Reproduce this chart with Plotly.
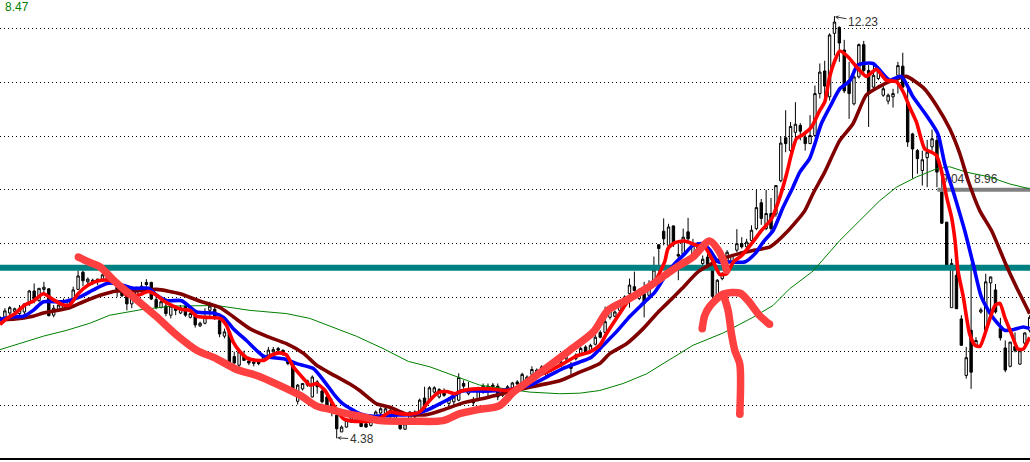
import plotly.graph_objects as go

# candle index is position along the x axis; W = rising (hollow) candle, B = falling (filled) candle
candle_kind = list(
    "WWWWWWWBWWB" "WWWWWWBWWWWWBBBB" "WWWBBBWBWBWBWB" "WWWBBWBBWBBWBWWWBB" "BBWWWWBBBBB"
    "WWWWBBWWWWWWBWWWWBWWWB" "WWWBWBWWWBBWWWBWWWWWWWWWWB" "WWBWWBWWWWWWBWBWWB"
    "BWBBWBWWWBBWWWWWBWWWBWBW" "WBWWBBWWWBWWBBBWWBBWWWWWWBBBBWWWBBB" "WBBWBWWWWBBBWBWWW")
body_top = [6.63,6.75,6.81,6.79,6.80,6.88,7.12,7.12,7.17,7.19,7.16,
6.80,6.86,6.86,6.95,7.14,7.40,7.47,7.34,7.32,7.34,7.42,7.45,7.35,7.26,7.15,7.03,
6.98,7.17,7.21,7.28,7.28,6.96,6.92,6.84,6.84,6.81,6.81,6.84,6.70,6.67,
6.52,6.63,6.84,6.78,6.57,6.36,6.36,5.90,5.99,5.93,5.82,5.80,5.80,5.90,6.02,6.03,6.05,6.02,
5.85,5.77,5.37,5.40,5.45,5.52,5.43,5.26,5.15,5.03,4.81,
4.59,4.72,4.78,4.81,4.68,4.65,4.72,4.87,4.93,4.93,4.90,4.87,4.65,4.65,4.87,4.87,5.09,5.13,5.32,5.32,5.29,5.27,
5.12,5.15,5.51,5.40,5.27,5.10,5.30,5.35,5.35,5.37,5.35,5.27,5.34,5.41,5.43,5.57,5.52,5.66,5.65,5.71,5.62,5.71,5.86,5.80,5.93,
5.74,5.93,6.05,6.08,6.11,6.26,6.35,6.55,6.76,6.73,6.86,7.01,7.23,7.20,7.14,7.07,7.20,7.51,7.98,
8.23,8.31,8.33,7.80,8.12,8.22,8.00,8.00,7.71,7.75,7.50,7.32,7.44,7.84,7.78,8.00,8.00,8.03,8.25,8.67,8.76,8.56,8.56,9.08,
9.87,9.97,10.18,10.22,10.20,9.98,10.01,10.79,11.19,11.21,11.88,12.12,12.02,11.60,11.04,11.10,11.70,11.70,11.22,11.13,11.25,10.88,10.76,10.79,11.31,11.30,10.63,10.04,9.73,9.56,9.70,9.95,9.92,8.96,8.40,
7.63,7.41,6.60,5.88,6.39,6.20,6.77,7.29,7.38,7.14,6.42,6.06,6.17,6.09,6.01,6.34,6.63]
body_bot = [6.52,6.63,6.71,6.74,6.70,6.73,6.88,6.96,6.94,7.15,6.66,
6.67,6.78,6.80,6.84,6.94,7.15,7.31,7.29,7.29,7.31,7.34,7.32,7.26,7.15,7.03,6.88,
6.88,7.04,7.15,7.24,6.97,6.81,6.81,6.70,6.67,6.76,6.71,6.67,6.63,6.49,
6.47,6.52,6.76,6.63,6.32,6.28,5.80,5.78,5.74,5.83,5.78,5.77,5.77,5.85,5.93,5.99,6.02,5.96,
5.77,5.30,5.07,5.30,5.37,5.15,5.34,5.06,4.99,4.87,4.56,
4.50,4.59,4.68,4.72,4.60,4.59,4.62,4.78,4.85,4.81,4.78,4.75,4.56,4.55,4.75,4.78,4.87,4.93,5.09,5.24,5.15,5.18,
5.03,5.06,5.09,5.35,5.21,5.04,5.12,5.24,5.27,5.34,5.15,5.18,5.27,5.32,5.39,5.41,5.45,5.57,5.58,5.65,5.55,5.65,5.80,5.74,5.86,
5.68,5.86,5.96,5.99,5.99,6.13,6.26,6.35,6.63,6.65,6.76,6.92,7.07,7.13,6.98,6.89,7.04,7.32,7.91,
8.09,7.97,7.98,7.77,7.81,8.09,7.81,7.91,7.63,7.60,7.02,7.02,7.35,7.69,7.66,7.88,7.94,7.94,8.06,8.28,8.47,8.28,8.28,8.55,
9.17,9.86,9.73,10.07,10.09,9.86,9.86,10.01,10.79,10.93,10.73,11.91,11.73,10.84,10.79,10.60,11.10,11.22,10.79,10.91,11.07,10.76,10.65,10.73,11.13,10.91,9.89,9.76,9.58,9.36,9.60,9.80,9.33,8.38,7.60,
6.81,6.79,6.11,5.55,5.61,6.11,6.73,6.39,7.27,6.73,6.25,5.65,5.72,6.01,5.76,6.15,6.39]
high = [6.65,6.80,6.84,6.81,6.86,6.89,7.14,7.26,7.17,7.29,7.17,
6.86,6.95,6.98,6.98,7.20,7.50,7.50,7.37,7.35,7.35,7.45,7.48,7.39,7.29,7.23,7.04,
7.04,7.20,7.29,7.34,7.29,7.01,6.95,6.98,6.86,6.86,6.86,6.89,6.76,6.73,
6.55,6.80,6.92,6.83,6.70,6.42,6.39,5.99,6.01,6.01,5.90,5.85,5.85,5.93,6.08,6.08,6.08,6.03,
5.90,5.80,5.39,5.41,5.47,5.55,5.46,5.34,5.18,5.12,4.84,
4.62,4.75,4.81,4.84,4.72,4.68,4.75,4.90,4.96,4.96,4.93,4.90,4.68,4.68,4.88,4.90,5.12,5.34,5.35,5.35,5.31,5.31,
5.15,5.18,5.59,5.46,5.43,5.15,5.34,5.40,5.40,5.41,5.40,5.31,5.37,5.43,5.46,5.60,5.55,5.72,5.68,5.74,5.66,5.74,5.90,5.83,5.96,
5.80,5.96,6.08,6.11,6.14,6.30,6.39,6.83,6.80,6.76,6.89,7.04,7.35,7.48,7.17,7.29,7.32,7.76,7.98,
8.47,8.37,8.34,8.00,8.28,8.48,8.09,8.03,7.78,7.94,7.57,7.34,7.47,7.88,7.81,8.27,8.12,8.09,8.34,9.00,8.83,9.00,8.85,9.08,
9.99,10.48,10.26,10.63,10.24,10.07,10.39,10.94,11.35,11.40,11.91,12.23,12.04,11.79,11.38,11.13,11.72,11.77,11.32,11.32,11.29,10.94,10.79,10.88,11.38,11.55,10.94,10.06,9.76,9.73,9.93,10.12,10.01,9.24,8.40,
7.72,7.60,6.67,6.08,7.63,6.26,6.81,7.44,7.39,7.25,6.62,6.20,6.17,6.35,6.04,6.35,6.67]
low = [6.49,6.61,6.67,6.70,6.67,6.67,6.84,6.89,6.92,7.07,6.65,
6.63,6.76,6.76,6.80,6.92,7.14,7.21,7.23,7.23,7.23,7.31,7.29,7.23,7.01,7.01,6.76,
6.80,7.01,7.07,7.20,6.95,6.78,6.80,6.65,6.61,6.67,6.69,6.64,6.61,6.44,
6.45,6.50,6.63,6.58,6.26,6.24,5.80,5.77,5.71,5.82,5.74,5.72,5.74,5.82,5.90,5.96,5.97,5.91,
5.74,5.27,5.01,5.27,5.34,5.14,5.21,5.03,4.96,4.79,4.38,
4.50,4.58,4.67,4.68,4.59,4.58,4.60,4.75,4.78,4.79,4.75,4.73,4.54,4.54,4.72,4.75,4.84,4.93,5.07,5.21,5.12,5.15,
4.96,4.99,5.07,5.30,5.18,4.98,5.09,5.21,5.12,5.27,5.09,5.15,5.24,5.29,5.35,5.40,5.41,5.55,5.52,5.58,5.52,5.62,5.77,5.71,5.82,
5.57,5.83,5.93,5.96,5.96,6.11,6.24,6.33,6.59,6.63,6.73,6.89,6.81,7.11,6.95,6.63,7.01,7.26,7.48,
7.97,7.94,7.94,7.32,7.78,8.00,7.78,7.88,7.57,7.57,7.02,7.01,7.32,7.66,7.65,7.84,7.91,7.91,8.03,8.25,8.35,8.25,8.16,8.50,
9.14,9.70,9.61,9.86,9.92,9.73,9.85,9.98,10.70,10.63,10.66,11.50,11.38,10.80,10.32,10.57,11.07,11.16,10.17,10.88,11.04,10.73,10.59,10.53,10.79,10.90,9.80,9.21,9.30,9.08,9.05,9.73,9.05,8.37,7.58,
6.81,6.79,6.11,5.49,5.30,6.08,6.70,6.35,6.70,6.70,6.20,5.61,5.70,5.98,5.75,6.11,6.35]

red_i = [0,1.4,3.1,5.1,6.8,8.9,10.9,13,14.3,16,18.1,20.2,22.2,23.9,26,28.3,30.4,32.1,33.5,35.5,37.2,38.9,40.3,42.3,45.1,46.4,47.8,49.2,50.9,54,55.7,57.4,58.7,60.1,62.2,63.5,64.9,66.6,68,70.3,72.4,75.8,77.8,79.9,81.9,84,86,88.1,89.8,91.5,93.2,94.9,97.7,100.4,103.8,106.5,108.6,112,115.4,118.1,120.9,122.9,124.3,126.3,127.7,129.1,131.8,133.9,136.2,136.9,138.3,140.3,142.7,144.4,146.2,147.5,148.9,150.3,152,154,156.1,158.1,159.8,161.2,162.2,163.2,164.6,166.3,168,169,170,171.1,172.1,173.8,175.5,177.5,179.6,181.6,183.7,185.1,186.4,187.8,189.5,190.9,191.9,192.9,194,195,195.7,196.3,197.4,198.7,199.8,200.8,202.5,203.9,204.9,205.9,207.3,208.6,209.7,211]
red_v = [6.50,6.61,6.70,6.86,6.93,7.07,6.96,6.86,6.86,7.07,7.23,7.31,7.32,7.26,7.04,7.04,7.11,7.04,6.94,6.84,6.78,6.76,6.65,6.63,6.61,6.48,6.17,5.99,5.86,5.83,5.93,5.97,5.93,5.71,5.49,5.37,5.40,5.27,5.05,4.75,4.70,4.70,4.75,4.87,4.84,4.83,4.87,5.09,5.23,5.25,5.21,5.27,5.30,5.30,5.27,5.34,5.49,5.61,5.77,5.91,5.99,6.11,6.33,6.61,6.80,6.98,7.17,7.26,7.66,7.91,8.02,8.05,7.97,7.94,7.66,7.43,7.44,7.66,7.78,8.00,8.25,8.46,8.86,9.30,9.67,9.95,10.03,10.17,10.48,10.63,11.10,11.41,11.58,11.47,11.29,11.11,11.24,11.04,11.01,10.82,10.54,10.26,9.76,9.70,9.64,9.36,8.86,8.49,8.06,7.50,7.01,6.32,6.11,6.09,6.51,6.85,6.89,6.63,6.32,6.04,6.04,6.26]

blue_i = [0,2.7,4.8,6.8,8.9,13,16.4,19.1,21.9,23.9,27.3,30.4,32.1,34.2,37.2,40.3,43.7,45.8,47.8,50.5,54,58.1,60.8,64.2,66.3,68.6,70.3,73.7,76.5,80.6,84.7,87.4,90.1,92.2,94.6,97,100.4,104.5,108.6,112,115.4,118.8,121.2,123.6,126.3,129.1,131.8,134.2,136.2,138.3,140.3,142,144.1,145.5,147.2,149.6,152.6,154.7,156.4,158.4,160.5,162.5,163.9,165.9,167,168.3,170.4,172.1,174.1,175.8,178.9,182.3,184.7,187.1,189.8,192.2,193.6,195.7,197.7,199.4,201.1,203.2,205.9,207.6,209.7,211]
blue_v = [6.59,6.64,6.65,6.76,6.92,6.92,7.01,7.14,7.26,7.26,7.17,7.17,7.04,6.94,6.94,6.73,6.71,6.63,6.42,6.20,5.91,5.86,5.77,5.68,5.46,5.18,5.02,4.84,4.79,4.81,4.83,4.90,5.02,5.12,5.26,5.26,5.26,5.29,5.37,5.52,5.68,5.80,5.89,6.11,6.36,6.65,6.89,7.10,7.38,7.63,7.81,7.97,8.00,7.88,7.66,7.66,7.66,7.81,8.03,8.24,8.68,9.05,9.33,9.58,9.86,10.23,10.60,10.88,11.02,11.32,11.35,11.04,11.11,10.73,10.39,10.04,9.48,8.86,8.24,7.63,7.01,6.66,6.39,6.40,6.45,6.42]

maroon_i = [0,4.1,6.8,8.9,14.3,17.1,20.5,23.9,27.3,32.1,36.9,41,45.1,47.8,51.2,54.6,58.7,62.2,64.9,69.7,71.7,73.7,77.2,79.9,83.3,87.4,90.8,94.9,99,102.4,106.5,110.6,114.7,118.8,122.9,125,128.4,131.8,134.9,136.6,139.7,143.1,147.2,151.3,154.7,157.8,161.5,164.9,166.6,169,172.1,174.8,177.5,180,183,185.7,189.2,191.9,194.6,196.7,198.4,200.8,203.2,206.2,208.3,211]
maroon_v = [6.58,6.61,6.65,6.71,6.81,6.92,7.04,7.12,7.12,7.15,7.07,6.93,6.81,6.64,6.42,6.28,6.14,5.96,5.74,5.49,5.39,5.27,5.02,4.96,4.83,4.82,4.91,5.04,5.12,5.20,5.29,5.37,5.45,5.61,5.77,5.96,6.14,6.42,6.73,6.88,7.16,7.48,7.69,7.81,7.88,7.94,8.24,8.61,8.93,9.33,9.92,10.23,10.76,10.91,11.04,11.11,10.90,10.57,10.14,9.67,9.17,8.61,8.24,7.60,7.19,6.70]

green_i = [0,4.1,8.9,13.7,18.4,22.5,29.4,35.5,44.4,51.2,58.7,63.5,67.6,73,78.5,83.7,88.1,92.9,98.3,104.5,108.6,114.7,118.8,122.9,127.7,132.5,137.3,139.3,142,148.2,154.3,158.4,161.8,166.6,172.1,176.2,180.3,183.7,187.8,191.9,194.6,198,202.8,206.9,211]
green_v = [6.03,6.14,6.28,6.39,6.52,6.67,6.78,6.84,6.85,6.76,6.70,6.61,6.47,6.28,6.05,5.81,5.71,5.55,5.37,5.29,5.24,5.21,5.22,5.27,5.40,5.58,5.84,5.96,6.11,6.34,6.63,6.85,7.16,7.49,8.06,8.43,8.80,9.05,9.24,9.39,9.43,9.33,9.24,9.11,9.02]

stroke_main_i = [16.05,18.4,20.5,23.6,27.3,32.1,36.2,40.3,44.4,48.5,52.6,56.7,61.5,64.9,67.6,71,74.4,77.8,84.7,90.8,94.2,97.7,102.4,105.2,108.6,112.7,116.8,121.6,124.6,128.4,132.5,137.3,139.3,142,145.4,147.2,148.5,148.9]
stroke_main_v = [7.75,7.65,7.57,7.29,7.01,6.64,6.30,6.02,5.86,5.66,5.55,5.39,5.18,4.98,4.92,4.84,4.78,4.71,4.70,4.71,4.84,4.91,4.99,5.24,5.46,5.74,6.02,6.36,6.76,6.95,7.17,7.48,7.60,7.75,8.05,7.88,7.63,7.50]
arrow_head_i = [143.9,144.4,145.4,148.2,151.6,153.3,155.7,157.7]
arrow_head_v = [6.42,6.66,6.83,7.06,7.08,6.94,6.66,6.50]
arrow_shaft_i = [148.2,149.2,149.9,150.6,151.6,151.6]
arrow_shaft_v = [7.06,6.76,6.32,6.01,5.76,4.83]

support_level = 7.55
resist_level = 9.0
resist_start = 192.1
grid_levels = [5, 6, 7, 8, 9, 10, 11, 12]

assert len(candle_kind) == len(body_top) == len(body_bot) == len(high) == len(low) == 212, (
    len(candle_kind), len(body_top), len(body_bot), len(high), len(low))

idx = list(range(len(body_top)))
opens = [b if k == "W" else t for k, t, b in zip(candle_kind, body_top, body_bot)]
closes = [t if k == "W" else b for k, t, b in zip(candle_kind, body_top, body_bot)]

X_RANGE = [0, 211.07]
fig = go.Figure()
fig.add_trace(go.Candlestick(
    x=idx, open=opens, high=high, low=low, close=closes, whiskerwidth=0,
    increasing=dict(line=dict(color="#000000", width=1), fillcolor="#ffffff"),
    decreasing=dict(line=dict(color="#000000", width=1), fillcolor="#000000"),
    showlegend=False, hoverinfo="skip"))

def line(x, y, color, width, smooth=0.0):
    ln = dict(color=color, width=width)
    if smooth:
        ln.update(shape="spline", smoothing=smooth)
    fig.add_trace(go.Scatter(x=x, y=y, mode="lines", showlegend=False, hoverinfo="skip", line=ln))

line(list(X_RANGE), [support_level] * 2, "#008080", 6)
line([resist_start, X_RANGE[1]], [resist_level] * 2, "#808080", 4)
fig.add_trace(go.Scatter(x=[195.2, 202.0], y=[9.18, 9.18], mode="text", text=["9.04", "8.96"],
                         textposition="middle center", showlegend=False, hoverinfo="skip",
                         textfont=dict(family="Liberation Sans", size=12, color="#333333")))
line(green_i, green_v, "#008000", 1)
line(maroon_i, maroon_v, "#800000", 3.6, 0.6)
line(blue_i, blue_v, "#0000ff", 3.6, 0.6)
line(red_i, red_v, "#ff0000", 3.6, 0.6)

STROKE = "#ff4040"
for sx, sy in ((stroke_main_i, stroke_main_v), (arrow_head_i, arrow_head_v), (arrow_shaft_i, arrow_shaft_v)):
    line(sx, sy, STROKE, 7.5, 0.8)
    fig.add_trace(go.Scatter(x=[sx[0], sx[-1]], y=[sy[0], sy[-1]], mode="markers", showlegend=False,
                             hoverinfo="skip", marker=dict(color=STROKE, size=7.5)))

label_font = dict(family="Liberation Sans", size=12, color="#333333")
fig.add_annotation(x=171.1, y=12.22, text="12.23", showarrow=True, ax=28, ay=5, arrowhead=3,
                   arrowsize=0.8, arrowwidth=1, arrowcolor="#333333", standoff=0, font=label_font)
fig.add_annotation(x=69.1, y=4.39, text="4.38", showarrow=True, ax=24.5, ay=1.5, arrowhead=3,
                   arrowsize=0.8, arrowwidth=1, arrowcolor="#333333", standoff=0, font=label_font)
fig.add_annotation(xref="paper", yref="paper", x=0.003, y=0.985, text="8.47", showarrow=False,
                   xanchor="left", yanchor="middle",
                   font=dict(family="Liberation Sans", size=12, color="#008000"))

fig.update_layout(
    width=1030, height=462, margin=dict(l=0, r=0, t=0, b=4), paper_bgcolor="#ffffff", plot_bgcolor="#ffffff",
    showlegend=False,
    xaxis=dict(range=X_RANGE, rangeslider=dict(visible=False), showgrid=False, zeroline=False, showticklabels=False,
               ticks="", showline=True, linecolor="#000000", linewidth=1.5, fixedrange=True),
    yaxis=dict(range=[4.015, 12.53], tickmode="array", tickvals=grid_levels, showticklabels=False, ticks="",
               showgrid=True, gridcolor="#000000", gridwidth=1, griddash="1px,3px", zeroline=False, fixedrange=True),
)
fig.write_html("out.html", config={"displayModeBar": False},
               post_script="document.body.style.margin='0';")
